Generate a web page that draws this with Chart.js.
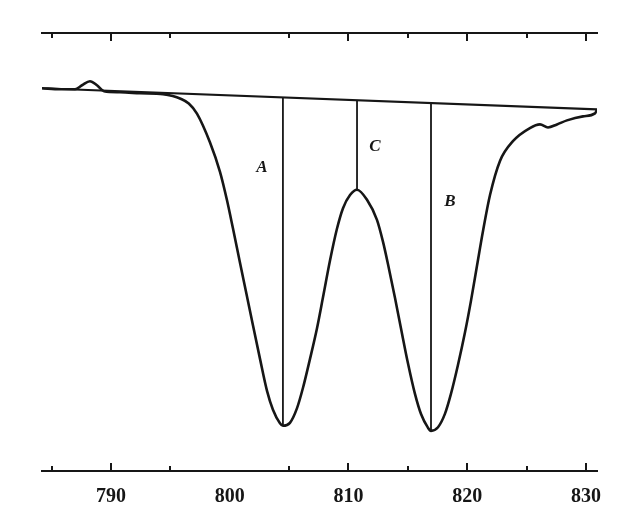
<!DOCTYPE html>
<html>
<head>
<meta charset="utf-8">
<script src="https://cdn.jsdelivr.net/npm/chart.js@4/dist/chart.umd.min.js"></script>
<style>
  html, body { margin: 0; padding: 0; background: #fff; }
  canvas { display: block; }
</style>
</head>
<body>
<canvas id="spectrum" width="620" height="511"></canvas>
<script>
// wavenumber positions of the tick marks and the labelled ticks
const tickMarks = [785, 790, 795, 805, 810, 815, 820, 825, 830];
const tickLabels = [790, 800, 810, 820, 830];

// traced absorption curve
const waveNumber = [
  784.19, 785.71, 786.97, 787.56, 788.23, 788.82, 789.41, 790.76, 792.44, 794.38,
  795.20, 795.81, 796.55, 797.24, 798.34, 799.18, 799.77, 800.27, 800.86, 801.45,
  801.96, 802.55, 803.14, 803.64, 804.23, 804.48, 805.07, 805.66, 806.17, 806.76,
  807.35, 807.85, 808.44, 809.03, 809.54, 810.13, 810.72, 811.56, 812.40, 812.91,
  813.33, 813.92, 814.42, 815.01, 815.60, 816.11, 816.69, 816.95, 817.54, 818.13,
  818.63, 819.22, 819.81, 820.32, 820.82, 821.33, 821.92, 822.76, 823.85, 825.28,
  826.13, 826.80, 827.56, 828.40, 829.75, 830.76, 830.93
];
const signal = [
  87.39, 87.16, 87.16, 88.07, 88.99, 88.07, 86.70, 86.47, 86.24, 86.01,
  85.60, 85.05, 83.90, 81.60, 75.00, 68.30, 61.80, 55.40, 47.60, 39.90,
  33.20, 25.60, 18.30, 14.00, 10.90, 10.32, 11.00, 14.30, 19.00, 25.60,
  32.60, 39.60, 48.00, 55.30, 60.00, 63.00, 64.22, 61.93, 57.34, 52.30,
  47.20, 39.50, 32.60, 24.60, 17.60, 13.00, 9.90, 9.17, 10.00, 13.10,
  17.60, 24.20, 31.60, 38.90, 46.80, 54.80, 63.00, 70.80, 75.30, 78.30,
  79.13, 78.44, 79.13, 80.05, 80.96, 81.65, 82.57
];

// straight baseline drawn across the bands
const baseX = [784.19, 830.93];
const baseY = [87.39, 82.57];

// band markers A, C, B
const bandNames = ['A', 'C', 'B'];
const bandX = [804.48, 810.72, 816.95];
const bandFloor = [10.32, 64.22, 9.17];
const nameX = [802.72, 812.23, 818.55];
const nameY = [69.27, 74.08, 61.47];

function baselineAt(x) {
  const t = (x - baseX[0]) / (baseX[1] - baseX[0]);
  return baseY[0] + t * (baseY[1] - baseY[0]);
}

const ink = '#161616';

const datasets = [
  {
    data: waveNumber.map((x, i) => ({ x: x, y: signal[i] })),
    borderColor: ink,
    borderWidth: 2.6,
    pointRadius: 0,
    cubicInterpolationMode: 'monotone'
  },
  {
    data: baseX.map((x, i) => ({ x: x, y: baseY[i] })),
    borderColor: ink,
    borderWidth: 2.2,
    pointRadius: 0
  }
];
bandX.forEach((x, i) => {
  datasets.push({
    data: [{ x: x, y: bandFloor[i] }, { x: x, y: baselineAt(x) }],
    borderColor: ink,
    borderWidth: 1.8,
    pointRadius: 0
  });
});

const extras = {
  id: 'extras',
  afterDraw(chart) {
    const { ctx, chartArea, scales } = chart;
    const x = scales.x, y = scales.y;
    ctx.save();
    ctx.strokeStyle = ink;
    ctx.lineWidth = 2;
    tickMarks.forEach(v => {
      const px = Math.round(x.getPixelForValue(v));
      const len = v % 10 === 0 ? 8 : 5;
      ctx.beginPath();
      ctx.moveTo(px, chartArea.bottom);
      ctx.lineTo(px, chartArea.bottom - len);
      ctx.moveTo(px, chartArea.top);
      ctx.lineTo(px, chartArea.top + len);
      ctx.stroke();
    });
    ctx.fillStyle = ink;
    ctx.font = 'italic bold 17px "Liberation Serif", serif';
    ctx.textAlign = 'center';
    ctx.textBaseline = 'middle';
    bandNames.forEach((n, i) => {
      ctx.fillText(n, x.getPixelForValue(nameX[i]), y.getPixelForValue(nameY[i]));
    });
    ctx.restore();
  }
};

new Chart(document.getElementById('spectrum'), {
  type: 'line',
  data: { datasets: datasets },
  options: {
    responsive: false,
    animation: false,
    events: [],
    layout: { padding: { left: 42, right: 23, top: 33, bottom: -12 } },
    plugins: { legend: { display: false }, tooltip: { enabled: false } },
    scales: {
      x: {
        type: 'linear',
        position: 'bottom',
        min: 784.19,
        max: 830.93,
        afterBuildTicks: scale => {
          scale.ticks = tickLabels.map(v => ({ value: v }));
        },
        grid: { display: false, drawTicks: false },
        border: { display: true, color: ink, width: 2 },
        ticks: {
          padding: 14,
          color: ink,
          maxRotation: 0,
          font: { family: '"Liberation Serif", serif', size: 20, weight: 'bold' }
        }
      },
      x2: {
        type: 'linear',
        position: 'top',
        min: 784.19,
        max: 830.93,
        grid: { display: false, drawTicks: false },
        border: { display: true, color: ink, width: 2 },
        ticks: { display: false }
      },
      y: {
        display: false,
        min: 0,
        max: 100
      }
    }
  },
  plugins: [extras]
});
</script>
</body>
</html>
